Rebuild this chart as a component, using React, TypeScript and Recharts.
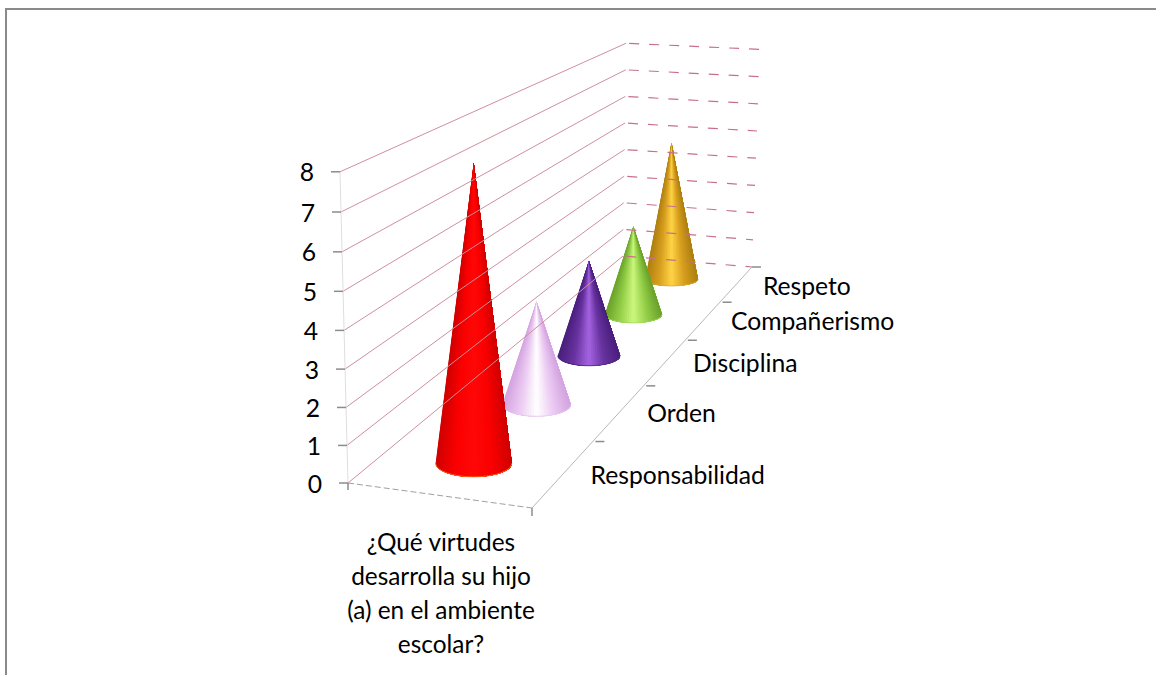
import { Bar, ComposedChart, Line, Scatter, XAxis, YAxis } from "recharts";

const categories = ["Responsabilidad", "Orden", "Disciplina", "Compañerismo", "Respeto"];
const values = [8, 3, 3, 3, 5];
const coneColors = [
  ["#d00000", "#fa0000", "#ff0808", "#fa0000", "#d00000"],
  ["#d4a4e0", "#eccbf2", "#ffffff", "#eccbf2", "#d4a4e0"],
  ["#4a1f7e", "#68339f", "#a564e2", "#68339f", "#4a1f7e"],
  ["#6ba22c", "#94cf48", "#ccf77e", "#94cf48", "#6ba22c"],
  ["#ae8010", "#d69e1e", "#ffd445", "#d69e1e", "#ae8010"],
];
const coneRims = ["#f08020", "#e6c6ee", "#4e2488", "#a0d858", "#e0aa28"];
const axisTicks = [0, 1, 2, 3, 4, 5, 6, 7, 8];
const depthTicks = [0.2, 0.4, 0.6, 0.8, 1];
const axisTitle = ["¿Qué virtudes", "desarrolla su hijo", "(a) en el ambiente", "escolar?"];

const W = 1156;
const H = 675;
const FONT = "Lato, 'Open Sans', sans-serif";

// the chart's y axis is in front-wall value units
const UNIT = 38.9;
const ZERO = 483;
const toValue = (py: number) => (ZERO - py) / UNIT;
// the front wall is not quite linear on screen, it bows a little
const bow = (t: number) => 0.1875 * t * (8 - t);

// floor corners of the 3D box, perspective along depth d (0 front, 1 back)
const persp = (d: number, a: number) => (a * d) / (1 + (a - 1) * d);
const leftEdge = (d: number) => {
  const f = persp(d, 1.46);
  return { x: 348 + f * (623 - 348), y: 483 + f * (256 - 483) };
};
const rightEdge = (d: number) => {
  const f = persp(d, 1.62);
  return { x: 532 + f * (752 - 532), y: 508 + f * (267 - 508) };
};
const pt = (x: number, py: number) => ({ x, v: toValue(py) });

const coneData = categories
  .map((category, i) => {
    const d = (i + 0.5) / categories.length;
    const l = leftEdge(d);
    const r = rightEdge(d);
    const baseY = (l.y + r.y) / 2 + 2;
    const scale = 1 / (0.0254 + 0.0125 * d);
    const low = toValue(baseY);
    return {
      x: (l.x + r.x) / 2 - 2.6 + 3.8 * d,
      range: [low, low + (values[i] * scale) / UNIT],
      rx: 1 + 1 / (0.0254 + 0.0155 * d),
      ry: 14.5 * (1 - 0.6 * d),
      id: i,
    };
  })
  .reverse();

const wallLines = axisTicks.map((t) => [pt(348 - t, ZERO - UNIT * t + bow(t)), pt(623 + 0.4 * t, 256 - 26.6 * t)]);
const backLines = axisTicks.map((t) => [pt(626 + 0.4 * t, 256.2 - 26.6 * t), pt(752 + t, 267 - 27.2 * t)]);
const depthMarks = depthTicks.map((d) => {
  const p = rightEdge(d);
  return [pt(p.x, p.y + (d < 1 ? 3 : 0)), pt(p.x + 9, p.y + (d < 1 ? 3 : 0))];
});

const categoryLabels = categories.map((label, i) => {
  const p = rightEdge((i + 0.5) / categories.length);
  return { ...pt(p.x + 25, p.y + 3.5), label };
});

function shade(stops: string[], u: number) {
  const pos = Math.min(0.9999, Math.max(0, u)) * (stops.length - 1);
  const i = Math.floor(pos);
  const t = pos - i;
  const ch = (c: string, k: number) => parseInt(c.slice(1 + k * 2, 3 + k * 2), 16);
  const mix = [0, 1, 2].map((k) => Math.round(ch(stops[i], k) * (1 - t) + ch(stops[i + 1], k) * t));
  return `rgb(${mix.join(",")})`;
}

// wedges from the apex painted left to right, each one covering everything to its right,
// so the shading runs into the tip and no seams show
function Cone(props: any) {
  const { x, y, width, height, payload } = props;
  const cx = x + width / 2;
  const baseY = y + height;
  const { rx, ry, id } = payload;
  const N = 40;
  const wedges = [];
  for (let k = 0; k < N; k++) {
    const a = Math.PI - (Math.PI * k) / N;
    const x0 = cx + rx * Math.cos(a);
    const y0 = baseY + ry * Math.sin(a);
    const mid = cx + rx * Math.cos(a - Math.PI / (2 * N));
    const c = shade(coneColors[id], (mid - (cx - rx)) / (2 * rx));
    wedges.push(<path key={k} d={`M${cx},${y} L${x0},${y0} A${rx},${ry} 0 0 0 ${cx + rx},${baseY} Z`} fill={c} />);
  }
  return (
    <g>
      {wedges}
      <path d={`M${cx + rx},${baseY} A${rx},${ry} 0 0 1 ${cx - rx},${baseY}`} fill="none" stroke={coneRims[id]} strokeWidth={0.8} />
    </g>
  );
}

function ValueTick(props: any) {
  const { payload } = props;
  const y = props.y + bow(payload.value);
  const ax = 348 - payload.value;
  return (
    <g>
      <line x1={ax - 9} x2={ax} y1={y} y2={y} stroke="#8c8c8c" strokeWidth={1.5} />
      <text x={ax - 33} y={y} textAnchor="middle" dominantBaseline="central" fontSize={24.7} fontFamily={FONT} fill="#000">
        {payload.value}
      </text>
    </g>
  );
}

function CategoryLabel(props: any) {
  const { cx, cy, payload } = props;
  return (
    <text x={cx} y={cy} dominantBaseline="central" fontSize={24.7} fontFamily={FONT} fill="#000">
      {payload.label}
    </text>
  );
}

function TitleLabel(props: any) {
  const { cx, cy } = props;
  return (
    <text x={cx} y={cy} textAnchor="middle" fontSize={24.4} fontFamily={FONT} fill="#000">
      {axisTitle.map((t, i) => (
        <tspan key={t} x={cx} dy={i === 0 ? 0 : 34}>
          {t}
        </tspan>
      ))}
    </text>
  );
}

function seg(key: string, data: any[], stroke: string, dash?: string, width = 1) {
  return (
    <Line
      key={key}
      data={data}
      dataKey="v"
      stroke={stroke}
      strokeWidth={width}
      strokeDasharray={dash}
      dot={false}
      activeDot={false}
      legendType="none"
      isAnimationActive={false}
    />
  );
}

export default function App() {
  return (
    <div style={{ position: "absolute", left: 0, top: 0, width: W, height: H, background: "#fff", overflow: "hidden" }}>
      <div style={{ position: "absolute", left: 5, top: 8, width: W, height: 2, background: "#8a8a8a" }} />
      <div style={{ position: "absolute", left: 5, top: 8, width: 2, height: H, background: "#8a8a8a" }} />
      <div style={{ position: "absolute", left: 0, top: 0 }}>
        <ComposedChart width={W} height={H} data={coneData} margin={{ top: 0, right: 0, bottom: 0, left: 0 }}>
          <XAxis type="number" dataKey="x" domain={[1, W]} hide allowDataOverflow />
          <YAxis
            type="number"
            width={1}
            domain={[toValue(H), toValue(0)]}
            ticks={axisTicks}
            interval={0}
            tick={<ValueTick />}
            tickLine={false}
            axisLine={false}
            allowDataOverflow
          />
          {wallLines.map((d, i) => seg(`wall${i}`, d, "#cf8f9c"))}
          {backLines.map((d, i) => seg(`back${i}`, d, "#c8708a", "10 10", 1.2))}
          {seg("axis", [pt(340, 172), pt(348, 483)], "#dedede")}
          {seg("front", [pt(348, 483), pt(532, 508)], "#a0a0a0", "6 3")}
          {seg("depth", [pt(532, 508), pt(752, 267)], "#b8b8b8")}
          {seg("frontTickA", [pt(348, 483), pt(348, 490)], "#8c8c8c", undefined, 1.5)}
          {seg("frontTickB", [pt(532, 508), pt(532, 516)], "#8c8c8c", undefined, 1.5)}
          {depthMarks.map((d, i) => seg(`mark${i}`, d, "#8c8c8c", undefined, 1.5))}
          <Bar dataKey="range" barSize={2} shape={<Cone />} isAnimationActive={false} />
          <Scatter data={categoryLabels} dataKey="v" shape={<CategoryLabel />} isAnimationActive={false} />
          <Scatter data={[{ ...pt(441, 551), label: "title" }]} dataKey="v" shape={<TitleLabel />} isAnimationActive={false} />
        </ComposedChart>
      </div>
    </div>
  );
}
